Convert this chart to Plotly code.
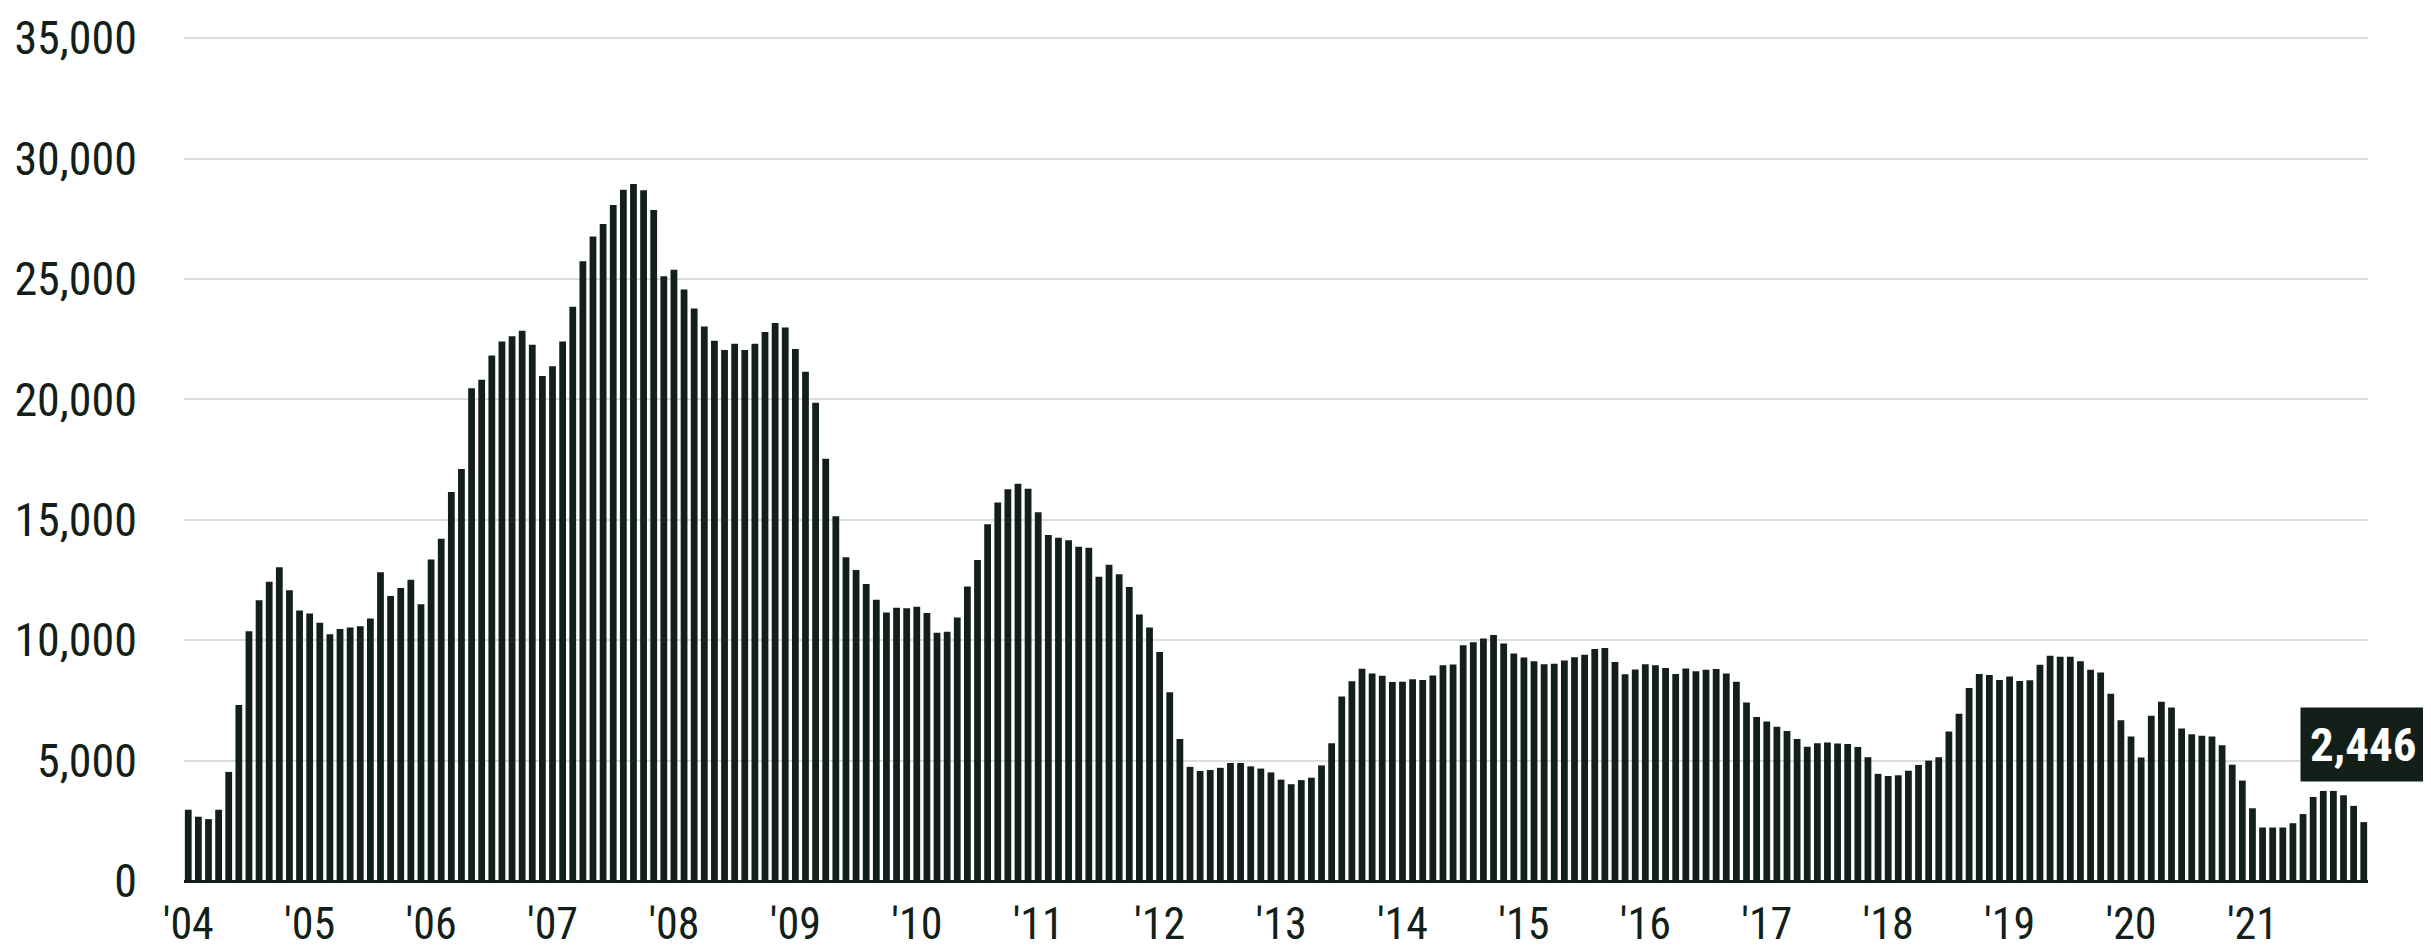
import plotly.graph_objects as go

# Monthly values, Jan 2004 - Dec 2021
v2004 = [2960, 2670, 2570, 2960, 4530, 7310, 10370, 11660, 12430, 13030, 12070, 11230]
v2005 = [11110, 10720, 10250, 10470, 10530, 10580, 10900, 12820, 11840, 12170, 12510, 11490]
v2006 = [13350, 14210, 16150, 17110, 20460, 20820, 21820, 22400, 22620, 22850, 22270, 20970]
v2007 = [21380, 22400, 23850, 25740, 26770, 27280, 28070, 28710, 28950, 28690, 27870, 25110]
v2008 = [25380, 24560, 23780, 23030, 22440, 22050, 22310, 22050, 22310, 22800, 23170, 22990]
v2009 = [22090, 21150, 19860, 17540, 15150, 13450, 12920, 12330, 11680, 11150, 11350, 11330]
v2010 = [11390, 11130, 10310, 10350, 10940, 12230, 13330, 14820, 15720, 16270, 16500, 16290]
v2011 = [15310, 14370, 14250, 14150, 13880, 13840, 12640, 13130, 12740, 12210, 11070, 10530]
v2012 = [9510, 7840, 5900, 4740, 4570, 4610, 4700, 4900, 4900, 4760, 4670, 4510]
v2013 = [4210, 4020, 4190, 4290, 4800, 5720, 7660, 8300, 8810, 8620, 8520, 8260]
v2014 = [8270, 8380, 8350, 8530, 8960, 8990, 9790, 9920, 10070, 10220, 9860, 9450]
v2015 = [9280, 9130, 9000, 9020, 9160, 9290, 9400, 9630, 9680, 9090, 8590, 8780]
v2016 = [9000, 8960, 8850, 8600, 8820, 8710, 8770, 8800, 8620, 8270, 7410, 6810]
v2017 = [6620, 6410, 6230, 5900, 5580, 5720, 5750, 5710, 5690, 5570, 5140, 4450]
v2018 = [4360, 4390, 4580, 4820, 5000, 5140, 6210, 6950, 8020, 8600, 8560, 8350]
v2019 = [8490, 8310, 8340, 8980, 9350, 9310, 9310, 9130, 8770, 8660, 7780, 6680]
v2020 = [6000, 5130, 6860, 7440, 7200, 6330, 6090, 6030, 6000, 5640, 4830, 4170]
v2021 = [3020, 2220, 2220, 2220, 2400, 2780, 3490, 3740, 3740, 3560, 3120, 2446]

years = list(range(2004, 2022))
yearly = [v2004, v2005, v2006, v2007, v2008, v2009, v2010, v2011, v2012,
          v2013, v2014, v2015, v2016, v2017, v2018, v2019, v2020, v2021]

months = [f"{y}-{m:02d}" for y in years for m in range(1, 13)]
values = [v for yv in yearly for v in yv]

tick_vals = [f"{y}-01" for y in years]
tick_text = [f"'{str(y)[2:]}" for y in years]
y_ticks = [0, 5000, 10000, 15000, 20000, 25000, 30000, 35000]
y_text = [f"{t:,}" for t in y_ticks]

DARK = "#122019"
FONT = "Roboto Condensed, Liberation Sans Narrow, DejaVu Sans Condensed, sans-serif"

fig = go.Figure()
fig.add_trace(go.Bar(x=months, y=values, marker=dict(color=DARK, line=dict(width=0)),
                     hoverinfo="x+y"))

fig.add_annotation(x=months[-1], y=values[-1], xref="x", yref="y",
                   text=f"<b>{values[-1]:,}</b>", showarrow=False,
                   yanchor="bottom", yshift=40, xanchor="center",
                   font=dict(family=FONT, size=47, color="white"),
                   bgcolor=DARK, borderpad=9)

fig.update_layout(
    width=2431, height=952,
    margin=dict(l=176, r=71, t=29, b=79, autoexpand=False),
    paper_bgcolor="white", plot_bgcolor="white",
    bargap=0.33, showlegend=False,
    font=dict(family=FONT, size=46, color=DARK),
)
fig.update_xaxes(type="category", range=[-0.42, len(months) - 0.58],
                 tickmode="array", tickvals=tick_vals, ticktext=tick_text,
                 showgrid=False, ticks="", showline=False, ticklabelstandoff=13,
                 automargin=False,
                 tickfont=dict(family=FONT, size=44, color=DARK))
fig.update_yaxes(range=[0, 35050], tickmode="array", tickvals=y_ticks, ticktext=y_text,
                 showgrid=True, gridcolor="#dcdcdc", gridwidth=2,
                 zeroline=True, zerolinecolor=DARK, zerolinewidth=2.5,
                 ticks="", ticklabelstandoff=46, automargin=False,
                 tickfont=dict(family=FONT, size=46, color=DARK))

fig.write_html("out.html")
